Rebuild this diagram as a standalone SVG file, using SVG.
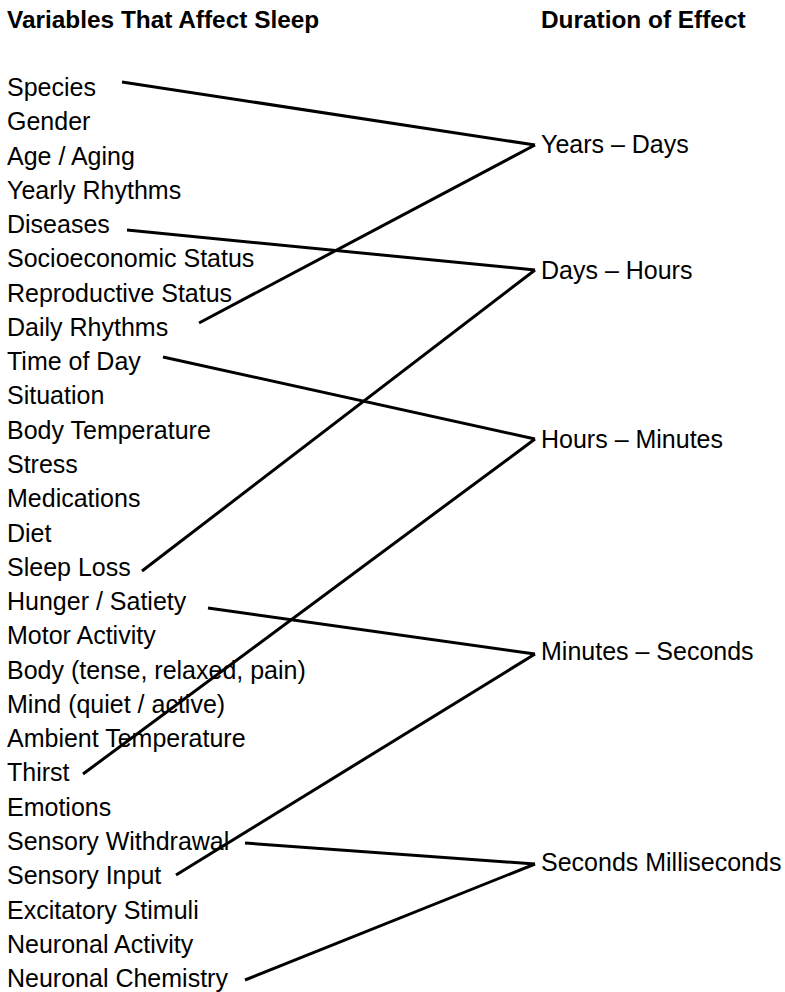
<svg xmlns="http://www.w3.org/2000/svg" width="785" height="992" viewBox="0 0 785 992">
<style>
text{font-family:"Liberation Sans","Open Sans",sans-serif;font-size:25px;fill:#000}
.h{font-weight:bold;font-size:24.4px}
.c line{stroke:#000;stroke-width:3;stroke-linecap:butt}
</style>
<rect width="785" height="992" fill="#fff"/>
<g id="headers">
<text class="h" x="7" y="28">Variables That Affect Sleep</text>
<text class="h" x="541" y="28">Duration of Effect</text>
</g>
<g id="variables">
<text x="7" y="96">Species</text>
<text x="7" y="130.3">Gender</text>
<text x="7" y="164.5">Age / Aging</text>
<text x="7" y="198.8">Yearly Rhythms</text>
<text x="7" y="233.1">Diseases</text>
<text x="7" y="267.4">Socioeconomic Status</text>
<text x="7" y="301.6">Reproductive Status</text>
<text x="7" y="335.9">Daily Rhythms</text>
<text x="7" y="370.2">Time of Day</text>
<text x="7" y="404.4">Situation</text>
<text x="7" y="438.7">Body Temperature</text>
<text x="7" y="473">Stress</text>
<text x="7" y="507.2">Medications</text>
<text x="7" y="541.5">Diet</text>
<text x="7" y="575.8">Sleep Loss</text>
<text x="7" y="610">Hunger / Satiety</text>
<text x="7" y="644.3">Motor Activity</text>
<text x="7" y="678.6">Body (tense, relaxed, pain)</text>
<text x="7" y="712.9">Mind (quiet / active)</text>
<text x="7" y="747.1">Ambient Temperature</text>
<text x="7" y="781.4">Thirst</text>
<text x="7" y="815.7">Emotions</text>
<text x="7" y="849.9">Sensory Withdrawal</text>
<text x="7" y="884.2">Sensory Input</text>
<text x="7" y="918.5">Excitatory Stimuli</text>
<text x="7" y="952.7">Neuronal Activity</text>
<text x="7" y="987">Neuronal Chemistry</text>
</g>
<g id="years-days"><text x="541" y="153">Years – Days</text></g>
<g id="days-hours"><text x="541" y="279">Days – Hours</text></g>
<g id="hours-minutes"><text x="541" y="448">Hours – Minutes</text></g>
<g id="minutes-seconds"><text x="541" y="660">Minutes – Seconds</text></g>
<g id="seconds-milliseconds"><text x="541" y="871">Seconds Milliseconds</text></g>
<g id="connectors" class="c">
<line x1="122" y1="82" x2="535" y2="145"/>
<line x1="199" y1="323" x2="535" y2="145"/>
<line x1="127" y1="230" x2="535" y2="270"/>
<line x1="142" y1="571" x2="535" y2="270"/>
<line x1="163" y1="357" x2="535" y2="439"/>
<line x1="83" y1="774" x2="535" y2="439"/>
<line x1="208" y1="608" x2="535" y2="654"/>
<line x1="176" y1="875" x2="535" y2="654"/>
<line x1="245" y1="843" x2="535" y2="864"/>
<line x1="245" y1="980" x2="535" y2="864"/>
</g>
</svg>
